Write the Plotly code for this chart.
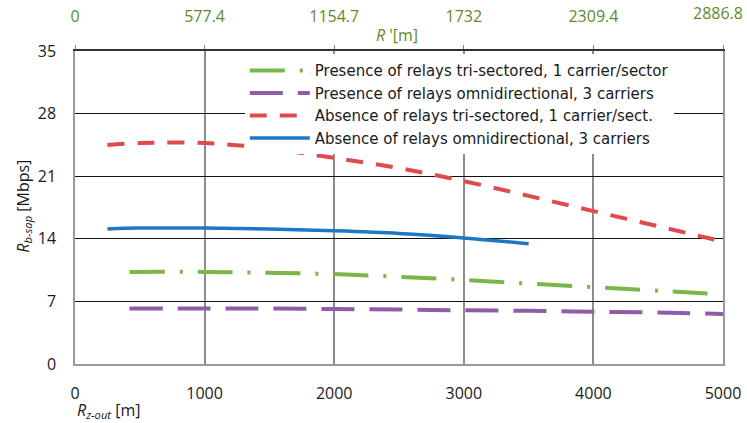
import plotly.graph_objects as go

# Data
green_x = [420, 1000, 1500, 2000, 2500, 3000, 3500, 4000, 4500, 5000]
green_y = [10.3, 10.3, 10.2, 10.05, 9.75, 9.4, 9.0, 8.6, 8.2, 7.8]
purple_x = [420, 1000, 1500, 2000, 2500, 3000, 3500, 4000, 4500, 5000]
purple_y = [6.2, 6.2, 6.2, 6.15, 6.1, 6.0, 5.95, 5.85, 5.75, 5.6]
red_x = [250, 500, 1000, 1500, 2000, 2500, 3000, 3500, 4000, 4500, 5000]
red_y = [24.5, 24.7, 24.7, 24.1, 23.05, 21.9, 20.45, 18.8, 17.1, 15.4, 13.7]
blue_x = [250, 500, 1000, 1500, 2000, 2500, 3000, 3500]
blue_y = [15.1, 15.2, 15.2, 15.1, 14.9, 14.6, 14.1, 13.45]

names = [
    "Presence of relays tri-sectored, 1 carrier/sector",
    "Presence of relays omnidirectional, 3 carriers",
    "Absence of relays tri-sectored, 1 carrier/sect.",
    "Absence of relays omnidirectional, 3 carriers",
]

bottom_ticks = [0, 1000, 2000, 3000, 4000, 5000]
top_ticktext = ["0", "577.4", "1154.7", "1732", "2309.4", "2886.8"]
y_ticks = [0, 7, 14, 21, 28, 35]

FONT = "Open Sans"
GREEN_TXT = "#5f8a2a"

fig = go.Figure()
fig.add_trace(go.Scatter(x=green_x, y=green_y, mode="lines", name=names[0],
                         line=dict(color="#7ab648", width=4, dash="35px,15px,3px,15px", shape="spline")))
fig.add_trace(go.Scatter(x=purple_x, y=purple_y, mode="lines", name=names[1],
                         line=dict(color="#8e5ca8", width=4, dash="33px,15px", shape="spline")))
fig.add_trace(go.Scatter(x=red_x, y=red_y, mode="lines", name=names[2],
                         line=dict(color="#e04a4a", width=4, dash="17px,13px", shape="spline")))
fig.add_trace(go.Scatter(x=blue_x, y=blue_y, mode="lines", name=names[3],
                         line=dict(color="#1f77c4", width=3.5, shape="spline")))
# dummy trace for top axis
fig.add_trace(go.Scatter(x=[0, 5000], y=[None, None], xaxis="x2", showlegend=False, hoverinfo="skip"))

# last top label drawn separately (it sits slightly inside and higher, as in the reference)
top_text_axis = top_ticktext[:-1] + [""]

fig.update_layout(
    width=747, height=423,
    margin=dict(l=75, r=24, t=51, b=59, autoexpand=False),
    paper_bgcolor="white", plot_bgcolor="white",
    font=dict(family=FONT, size=16, color="#1a1a1a"),
    xaxis=dict(range=[0, 5000], tickvals=bottom_ticks, showgrid=True, gridcolor="#8c8c8c", gridwidth=1.5,
               showline=True, linecolor="#9a9a9a", linewidth=1.5, mirror=True, ticks="", zeroline=False,
               tickfont=dict(size=16), ticklabelstandoff=14, automargin=False),
    xaxis2=dict(range=[0, 5000], overlaying="x", side="top", tickvals=bottom_ticks, ticktext=top_text_axis,
                showgrid=False, showline=True, linecolor="#333", linewidth=1.5, ticks="outside",
                ticklen=4, tickcolor="#888", tickfont=dict(size=16, color=GREEN_TXT), zeroline=False,
                ticklabelstandoff=17, automargin=False),
    yaxis=dict(range=[0, 35], tickvals=y_ticks, showgrid=True, gridcolor="#111", gridwidth=1.2,
               showline=True, linecolor="#9a9a9a", linewidth=1.5, mirror=True, ticks="", zeroline=False,
               tickfont=dict(size=16), ticklabelstandoff=14, automargin=False),
    legend=dict(x=0.262, y=0.99, xanchor="left", yanchor="top", bgcolor="white", borderwidth=0,
                font=dict(size=15, family="DejaVu Sans"), tracegroupgap=0, itemwidth=60),
    showlegend=True,
)

fig.add_annotation(text=top_ticktext[-1], xref="paper", yref="paper", x=1.034, y=1.12,
                   xanchor="right", yanchor="middle", showarrow=False,
                   font=dict(size=16, color=GREEN_TXT))
fig.add_annotation(text="<i>R</i><sub><i>b-sap</i></sub> [Mbps]", xref="paper", yref="paper",
                   x=-0.1, y=0.505, textangle=-90, showarrow=False, font=dict(size=16))
fig.add_annotation(text="<i>R</i><sub><i>z-out</i></sub> [m]", xref="paper", yref="paper",
                   x=0.0, y=-0.147, xanchor="left", yanchor="middle", showarrow=False, font=dict(size=16))
fig.add_annotation(text="<i>R</i> '[m]", xref="paper", yref="paper",
                   x=0.497, y=1.051, xanchor="center", yanchor="middle", showarrow=False,
                   font=dict(size=16, color=GREEN_TXT))

fig.write_html("out.html")
